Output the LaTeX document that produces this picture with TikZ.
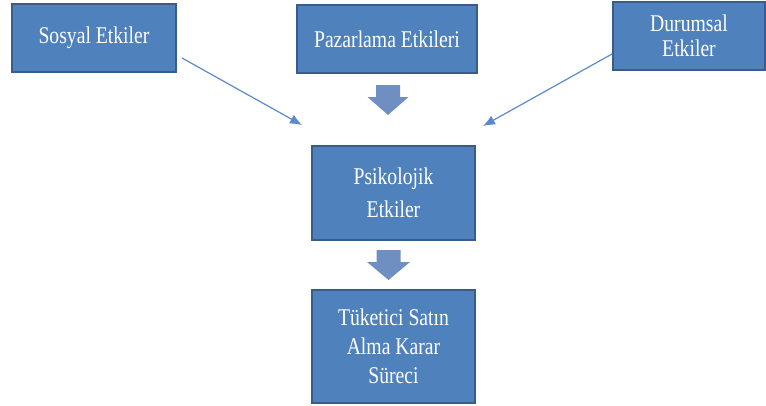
\documentclass[tikz,border=0pt]{standalone}
\usepackage{fontspec}
\setmainfont[FakeStretch=0.82]{Liberation Serif}
\usetikzlibrary{arrows.meta,calc}
\definecolor{boxfill}{HTML}{4F81BD}
\definecolor{boxline}{HTML}{385D8A}
\definecolor{blockarrow}{HTML}{6F8FC3}
\definecolor{thinline}{HTML}{5A8ACB}
\begin{document}
\begin{tikzpicture}[x=1pt,y=-1pt,
  factor/.style={draw=boxline, line width=1.6pt, fill=boxfill, text=white,
    align=center, inner sep=0pt, font=\fontsize{24}{29}\selectfont},
  thinarrow/.style={draw=thinline, line width=1.2pt,
    -{Latex[length=12pt,width=10pt]}},
  blockfill/.style={fill=blockarrow, draw=none}
]
\useasboundingbox (0,0) rectangle (766,405);

% factor boxes
\node[factor, minimum width=164, minimum height=68] (sos) at (94,38) {Sosyal Etkiler};
\node[factor, minimum width=180, minimum height=68] (paz) at (387,39) {Pazarlama Etkileri};
\node[factor, minimum width=152, minimum height=68, font=\fontsize{24}{25}\selectfont] (dur) at (689,36) {Durumsal\\Etkiler};
\node[factor, minimum width=163, minimum height=94, font=\fontsize{24}{33}\selectfont] (psi) at (393.5,193) {Psikolojik\\Etkiler};
\node[factor, minimum width=163, minimum height=113] (tuk) at (393.5,346.5) {Tüketici Satın\\Alma Karar\\Süreci};

% thin connectors from the side factors
\coordinate (s1) at (182,58);
\coordinate (t1) at (302,125);
\coordinate (s2) at (612,54);
\coordinate (t2) at (483,126);
\draw[thinarrow] (s1) -- (t1);
\draw[thinarrow] (s2) -- (t2);

% block arrows down the middle
\coordinate (a1) at (388,85);
\fill[blockfill] ($(a1)+(-12,0)$) -- ($(a1)+(12,0)$) -- ($(a1)+(12,12)$) -- ($(a1)+(20.5,12)$)
  -- ($(a1)+(0,30)$) -- ($(a1)+(-20.5,12)$) -- ($(a1)+(-12,12)$) -- cycle;
\coordinate (a2) at (388.5,250);
\fill[blockfill] ($(a2)+(-12,0)$) -- ($(a2)+(12,0)$) -- ($(a2)+(12,12)$) -- ($(a2)+(21.5,12)$)
  -- ($(a2)+(0,30)$) -- ($(a2)+(-21.5,12)$) -- ($(a2)+(-12,12)$) -- cycle;
\end{tikzpicture}
\end{document}
